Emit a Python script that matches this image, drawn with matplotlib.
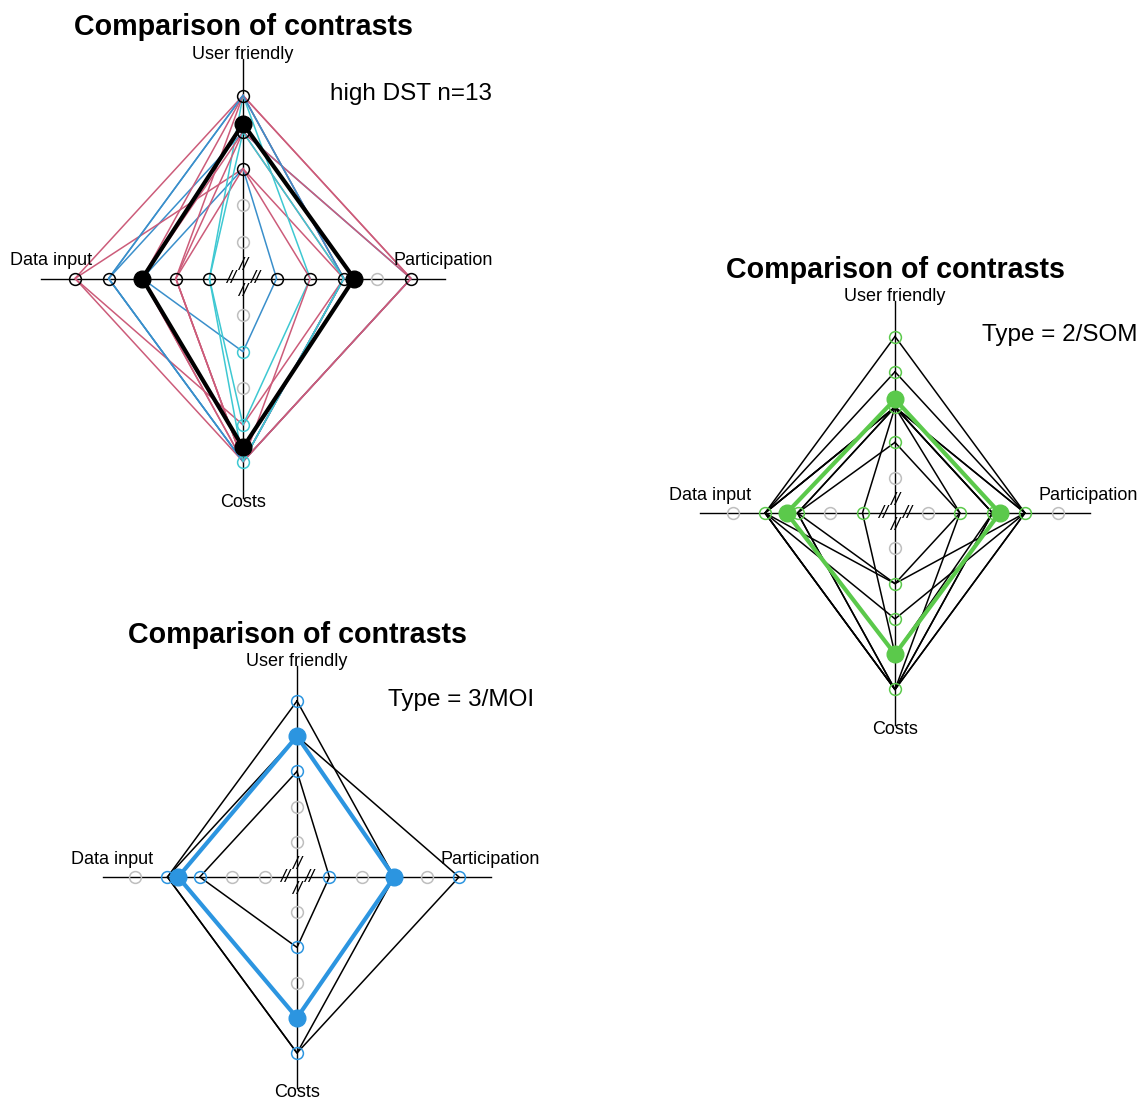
import numpy as np
import matplotlib.pyplot as plt

plt.rcParams['font.family'] = ['Liberation Sans', 'DejaVu Sans']

axis_names = ["User friendly", "Participation", "Costs", "Data input"]
levels = [1, 2, 3, 4, 5]

# panel 1: high DST, n=13 (one value per respondent and axis)
dst_user = [5, 4, 3, 5, 3, 5, 5, 4, 5, 4, 5, 3, 4]
dst_part = [5, 5, 3, 3, 1, 2, 5, 3, 3, 5, 3, 2, 3]
dst_cost = [5, 5, 4, 5, 2, 4, 5, 5, 5, 5, 5, 5, 5]
dst_data = [5, 4, 5, 4, 3, 1, 2, 2, 3, 3, 4, 2, 1]
dst_group = ["pink", "blue", "pink", "blue", "blue", "cyan", "pink",
             "pink", "pink", "pink", "blue", "pink", "cyan"]

# panel 2: Type = 2/SOM
som_user = [5, 4, 3, 3, 3, 2, 3, 3, 3]
som_part = [4, 4, 4, 3, 2, 2, 3, 4, 3]
som_cost = [5, 5, 3, 5, 5, 2, 4, 2, 5]
som_data = [4, 4, 4, 4, 3, 3, 1, 4, 3]

# panel 3: Type = 3/MOI
moi_user = [5, 4, 3]
moi_part = [3, 5, 1]
moi_cost = [5, 5, 2]
moi_data = [4, 4, 3]

W, H = 1139, 1101
group_colors = {"pink": "#CC5C7A", "blue": "#3A8FCB", "cyan": "#3EC8D2"}
GREY = "#BEBEBE"


def panel(cx, cy, sx, sy, user, part, cost, data, line_colors, mean_color,
          point_colors, note, note_x):
    ax = fig.add_axes([(cx - 7 * sx) / W, 1 - (cy + 7 * sy) / H,
                       14 * sx / W, 14 * sy / H])
    ax.set_xlim(-7, 7)
    ax.set_ylim(-7, 7)
    ax.axis('off')

    # axes cross
    ax.plot([-6, 6], [0, 0], color='black', lw=1.0, zorder=1)
    ax.plot([0, 0], [-6, 6], color='black', lw=1.0, zorder=1)

    # respondents
    for u, p, c, d, col in zip(user, part, cost, data, line_colors):
        ax.plot([0, p, 0, -d, 0], [u, 0, -c, 0, u], color=col, lw=1.1, zorder=2)

    # level markers on each axis
    vals = [user, part, cost, data]
    dirs = [(0, 1), (1, 0), (0, -1), (-1, 0)]
    for v, (dx, dy), pc in zip(vals, dirs, point_colors):
        for lv in levels:
            col = pc if lv in v else GREY
            ax.plot(dx * lv, dy * lv, 'o', mfc='none', mec=col, ms=8.5,
                    mew=1.1, zorder=3)

    # mean profile
    mu = [np.mean(v) for v in vals]
    mx = [0, mu[1], 0, -mu[3], 0]
    my = [mu[0], 0, -mu[2], 0, mu[0]]
    ax.plot(mx, my, color=mean_color, lw=3.0, zorder=4)
    ax.plot(mx[:4], my[:4], 'o', color=mean_color, ms=12, zorder=5)

    # axis break marks
    for x, y in [(-0.36, 0), (0.36, 0), (0, 0.36), (0, -0.36)]:
        ax.text(x, y, "//", ha='center', va='center', fontsize=13,
                style='italic', zorder=6)

    ax.text(0, 6.12, axis_names[0], ha='center', va='center', fontsize=13)
    ax.text(5.95, 0.5, axis_names[1], ha='center', va='center', fontsize=13)
    ax.text(0, -6.12, axis_names[2], ha='center', va='center', fontsize=13)
    ax.text(-5.7, 0.5, axis_names[3], ha='center', va='center', fontsize=13)
    ax.text(0, 6.88, "Comparison of contrasts", ha='center', va='center',
            fontsize=20.6, fontweight='bold')
    ax.text(note_x, 5.03, note, ha='left', va='center', fontsize=17.5)


fig = plt.figure(figsize=(W / 100, H / 100), dpi=100)

panel(243, 278.5, 33.6, 36.6, dst_user, dst_part, dst_cost, dst_data,
      [group_colors[g] for g in dst_group], 'black',
      ['black', 'black', group_colors["cyan"], 'black'], "high DST n=13", 2.59)

green = "#5BC94B"
panel(895, 513, 32.5, 35.3, som_user, som_part, som_cost, som_data,
      ['black'] * len(som_user), green, [green] * 4, "Type = 2/SOM", 2.68)

blue = "#2C95E0"
panel(297, 877, 32.4, 35.2, moi_user, moi_part, moi_cost, moi_data,
      ['black'] * len(moi_user), blue, [blue] * 4, "Type = 3/MOI", 2.81)

fig.savefig("out.png", dpi=100, facecolor='white')
